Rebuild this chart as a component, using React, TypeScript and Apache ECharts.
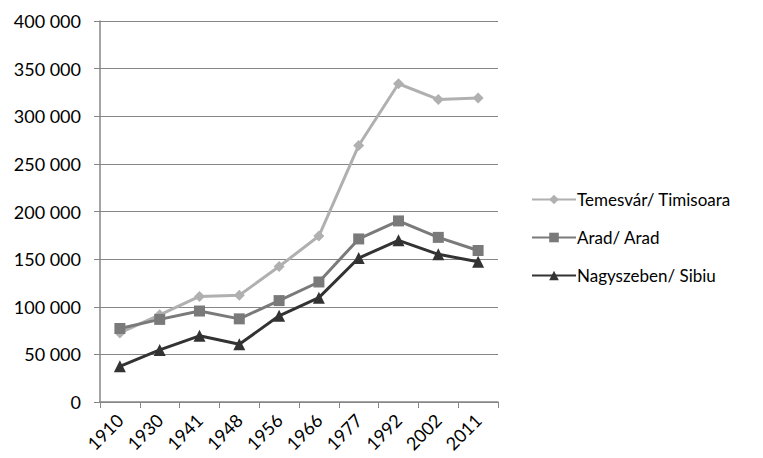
import React, { useEffect, useRef } from "react";
import * as echarts from "echarts";

const years = ["1910", "1930", "1941", "1948", "1956", "1966", "1977", "1992", "2002", "2011"];
const temesvar = [72555, 91580, 110840, 111987, 142251, 174243, 269353, 334115, 317660, 319279];
const arad = [77181, 86724, 95500, 87291, 106460, 126000, 171193, 190114, 172827, 159074];
const sibiu = [37500, 54700, 69500, 60600, 90475, 109515, 151137, 169696, 155045, 147245];
const seriesNames = ["Temesvár/ Timisoara", "Arad/ Arad", "Nagyszeben/ Sibiu"];

const FONT = "Lato, 'Open Sans', sans-serif";

export default function App() {
  const ref = useRef<HTMLDivElement>(null);
  useEffect(() => {
    const chart = echarts.init(ref.current!, null, { renderer: "svg" });
    const mk = (name: string, data: number[], color: string, symbol: string, size: number) => ({
      name,
      type: "line",
      data,
      symbol,
      symbolSize: size,
      showAllSymbol: true,
      lineStyle: { color, width: 3 },
      itemStyle: { color },
    });
    chart.setOption({
      animation: false,
      grid: { left: 100, top: 21, right: 265, bottom: 56, containLabel: false },
      legend: {
        orient: "vertical",
        left: 526,
        top: 186,
        itemWidth: 44,
        itemHeight: 12,
        itemGap: 21,
        textStyle: { fontFamily: FONT, fontSize: 17, color: "#000", padding: [0, 0, 0, -4] },
        data: seriesNames,
      },
      xAxis: {
        type: "category",
        data: years,
        boundaryGap: true,
        axisLine: { lineStyle: { color: "#868686", width: 1.5 } },
        axisTick: { show: true, length: 6, lineStyle: { color: "#868686" } },
        axisLabel: {
          rotate: 45,
          fontFamily: FONT,
          fontSize: 18,
          color: "#000",
          margin: 15,
        },
        splitLine: { show: false },
      },
      yAxis: {
        type: "value",
        min: 0,
        max: 400000,
        interval: 50000,
        axisLine: { show: true, lineStyle: { color: "#868686", width: 1.5 } },
        axisTick: { show: true, length: 6, lineStyle: { color: "#868686" } },
        axisLabel: {
          fontFamily: FONT,
          fontSize: 18,
          color: "#000",
          margin: 19,
          formatter: (v: number) => String(v).replace(/\B(?=(\d{3})+(?!\d))/g, " "),
        },
        splitLine: { show: true, lineStyle: { color: "#868686", width: 1 } },
      },
      series: [
        mk(seriesNames[0], temesvar, "#b0b0b0", "diamond", 11),
        mk(seriesNames[1], arad, "#7a7a7a", "rect", 11),
        mk(seriesNames[2], sibiu, "#333333", "triangle", 12),
      ],
    });
    return () => chart.dispose();
  }, []);
  return <div ref={ref} style={{ width: 763, height: 458, position: "absolute", left: 0, top: 0, background: "#fff" }} />;
}
